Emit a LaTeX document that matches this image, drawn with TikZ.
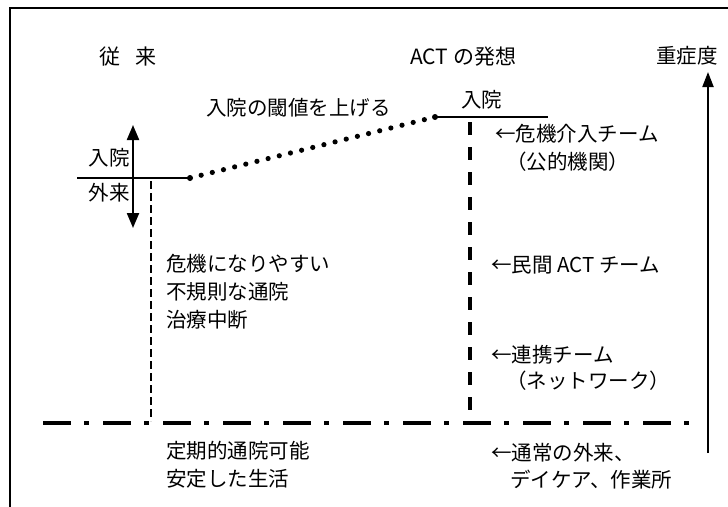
\documentclass[tikz,border=0pt]{standalone}
\usepackage{fontspec}
\setmainfont{Noto Sans CJK JP}
\usetikzlibrary{arrows.meta}
\begin{document}
\begin{tikzpicture}[x=1pt,y=-1pt,
  lbl/.style={inner sep=0pt, anchor=west, font=\fontsize{20.5}{24}\selectfont},
  ttl/.style={inner sep=0pt, anchor=west, font=\fontsize{21}{24}\selectfont},
  frame/.style={line width=2pt},
  solidline/.style={line width=2pt},
  bigarrow/.style={line width=2pt, -{Triangle[length=15pt,width=11pt]}},
  dbarrow/.style={line width=2.2pt, {Triangle[length=15pt,width=12pt]}-{Triangle[length=15pt,width=12pt]}},
  dotline/.style={line width=5.2pt, line cap=round, dash pattern=on 0pt off 11.5pt},
  thindash/.style={line width=1.6pt, dash pattern=on 8pt off 4pt},
  thickdash/.style={line width=3.6pt, dash pattern=on 13pt off 12pt},
  dashdot/.style={line width=3.6pt, dash pattern=on 28pt off 13pt on 5pt off 14pt},
  pt/.style={circle, fill=black, inner sep=0pt, minimum size=6pt}
]
\useasboundingbox (0,0) rectangle (728,506);
% frame (cropped)
\draw[frame] (10,8) -- (729,8);
\draw[frame] (10,7) -- (10,507);

% titles
\node[ttl] (t1) at (99,57) {従\hspace{0.75em}来};
\node[ttl] (t2) at (410,57) {ACT の発想};
\node[lbl] (t3) at (656,56) {重症度};

% threshold label
\node[lbl] (thr) at (206,108) {入院の閾値を上げる};

% left cross
\coordinate (ua) at (133,125);
\coordinate (da) at (133,228);
\draw[dbarrow] (ua) -- (da);
\node[lbl, anchor=east] (in1) at (130,158) {入院};
\node[lbl, anchor=east] (out1) at (130,193) {外来};
\coordinate (hl) at (77,178);
\node[pt] (p1) at (190,178) {};
\draw[solidline] (hl) -- (p1.center);

% ACT line
\node[pt] (p2) at (435,117) {};
\coordinate (hr) at (548,117);
\draw[solidline] (p2.center) -- (hr);
\node[lbl] (in2) at (461,100) {入院};

% dotted line
\draw[dotline] (p1.center) -- (p2.center);

% dash-dot baseline
\coordinate (bl) at (43,423);
\coordinate (br) at (690,423);
\draw[dashdot] (bl) -- (br);

% thin dashed vertical
\coordinate (v1t) at (151,181);
\coordinate (v1b) at (151,421);
\draw[thindash] (v1t) -- (v1b);

% thick dashed vertical
\coordinate (v2t) at (470,122);
\coordinate (v2b) at (470,421);
\draw[thickdash] (v2t) -- (v2b);

% right severity arrow
\coordinate (sb) at (708,453);
\coordinate (st) at (708,72);
\draw[bigarrow] (sb) -- (st);

% left texts
\node[lbl] (l1) at (166,264) {危機になりやすい};
\node[lbl] (l2) at (166,292) {不規則な通院};
\node[lbl] (l3) at (166,320) {治療中断};
\node[lbl] (l4) at (166,451) {定期的通院可能};
\node[lbl] (l5) at (166,479) {安定した生活};

% right texts
\node[lbl] (r1) at (495,134) {←危機介入チーム};
\node[lbl] (r2) at (506,162) {（公的機関）};
\node[lbl] (r3) at (491,265) {←民間 ACT チーム};
\node[lbl] (r4) at (491,355) {←連携チーム};
\node[lbl] (r5) at (506,381) {（ネットワーク）};
\node[lbl] (r6) at (491,453) {←通常の外来、};
\node[lbl] (r7) at (510,480) {デイケア、作業所};
\end{tikzpicture}
\end{document}
